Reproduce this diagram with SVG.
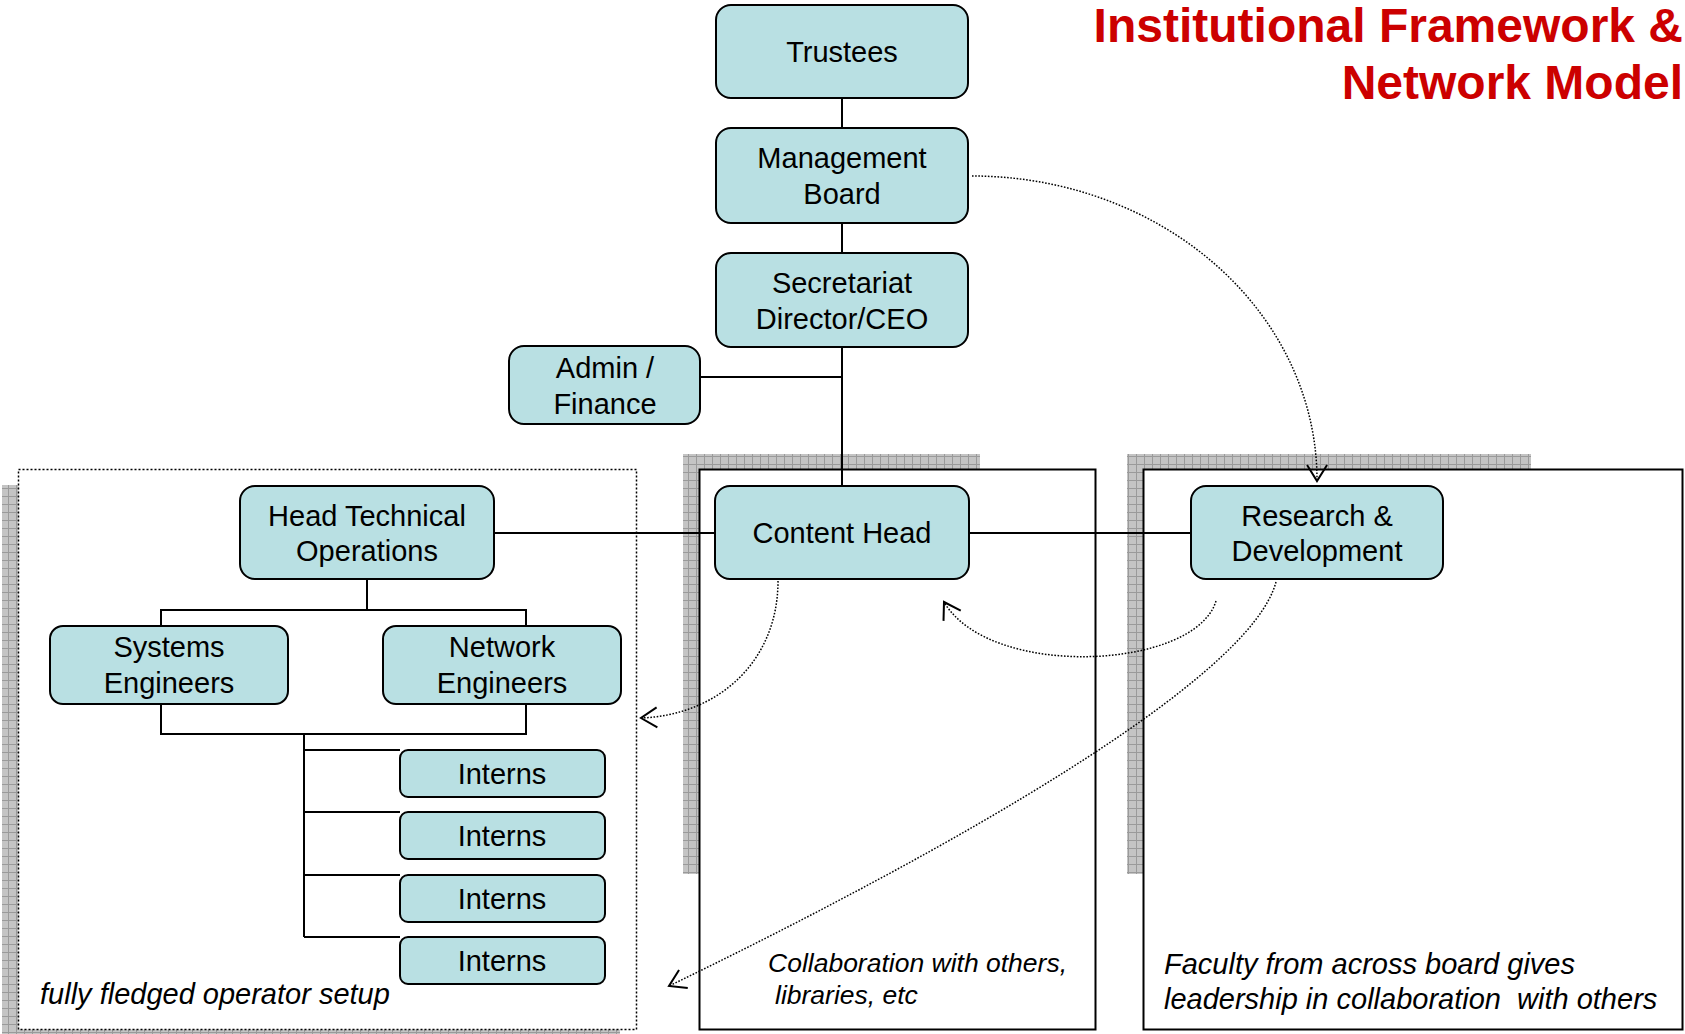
<svg xmlns="http://www.w3.org/2000/svg" width="1685" height="1034" viewBox="0 0 1685 1034">
<defs>
<pattern id="hatch" width="8" height="8" patternUnits="userSpaceOnUse">
<rect width="8" height="8" fill="#c4c4c4"/>
<path d="M0 0.5 H8 M0.5 0 V8" stroke="#9a9a9a" stroke-width="1" fill="none"/>
</pattern>
<marker id="arr" markerUnits="userSpaceOnUse" markerWidth="22" markerHeight="24" refX="17" refY="12" orient="auto">
<path d="M1 2 L17 12 L1 22" fill="none" stroke="#000" stroke-width="2"/>
</marker>
<style>
.node{fill:#b9e0e3;stroke:#000;stroke-width:2}
.t{font-family:"Liberation Sans",Arial,sans-serif;font-size:29px;fill:#000;text-anchor:middle}
.it{font-family:"Liberation Sans",Arial,sans-serif;font-style:italic;fill:#000}
.con{fill:none;stroke:#000;stroke-width:2}
.dot{fill:none;stroke:#000;stroke-width:1.5;stroke-dasharray:1.6 1.6}
.frame{fill:#fff;stroke:#000;stroke-width:2}
</style>
</defs>
<rect width="1685" height="1034" fill="#fff"/>

<g id="title">
<text x="1683" y="42" font-family="Liberation Sans,Arial,sans-serif" font-weight="bold" font-size="48" fill="#cc0000" text-anchor="end">Institutional Framework &amp;</text>
<text x="1683" y="99" font-family="Liberation Sans,Arial,sans-serif" font-weight="bold" font-size="48" fill="#cc0000" text-anchor="end">Network Model</text>
</g>

<g id="frames">
<rect x="2" y="485" width="618" height="560" fill="url(#hatch)"/>
<rect x="18.5" y="469.5" width="618" height="560" fill="#fff" stroke="#000" stroke-width="1.5" stroke-dasharray="2 2"/>
<rect x="683" y="454" width="297" height="420" fill="url(#hatch)"/>
<rect x="699.5" y="469.5" width="396" height="560" class="frame"/>
<rect x="1127" y="454" width="404" height="420" fill="url(#hatch)"/>
<rect x="1143.5" y="469.5" width="539" height="560" class="frame"/>
</g>

<g id="connectors">
<path class="con" d="M842 98 V128 M842 223 V253 M842 347 V486 M700 377 H842"/>
<path class="con" d="M494 533 H715 M969 533 H1191"/>
<path class="con" d="M367 579 V610 M161 626 V610 H526 V626"/>
<path class="con" d="M161 704 V734 H526 V704 M304 734 V937"/>
<path class="con" d="M304 750 H400 M304 812 H400 M304 875 H400 M304 937 H400"/>
<path class="dot" d="M972 176 A 345 304 0 0 1 1317 481" marker-end="url(#arr)"/>
<path class="dot" d="M778 581 C 778 660, 720 715, 641 718" marker-end="url(#arr)"/>
<path class="dot" d="M1216 601 C 1195 670, 990 680, 944 602" marker-end="url(#arr)"/>
<path class="dot" d="M1276 582 C 1250 680, 950 850, 669 986" marker-end="url(#arr)"/>
</g>

<g id="trustees"><rect class="node" x="716" y="5" width="252" height="93" rx="15"/><text class="t" x="842" y="62">Trustees</text></g>
<g id="management-board"><rect class="node" x="716" y="128" width="252" height="95" rx="15"/><text class="t" x="842" y="168">Management</text><text class="t" x="842" y="204">Board</text></g>
<g id="secretariat"><rect class="node" x="716" y="253" width="252" height="94" rx="15"/><text class="t" x="842" y="293">Secretariat</text><text class="t" x="842" y="329">Director/CEO</text></g>
<g id="admin-finance"><rect class="node" x="509" y="346" width="191" height="78" rx="15"/><text class="t" x="605" y="378">Admin /</text><text class="t" x="605" y="414">Finance</text></g>
<g id="head-technical"><rect class="node" x="240" y="486" width="254" height="93" rx="15"/><text class="t" x="367" y="526">Head Technical</text><text class="t" x="367" y="561">Operations</text></g>
<g id="content-head"><rect class="node" x="715" y="486" width="254" height="93" rx="15"/><text class="t" x="842" y="543">Content Head</text></g>
<g id="research"><rect class="node" x="1191" y="486" width="252" height="93" rx="15"/><text class="t" x="1317" y="526">Research &amp;</text><text class="t" x="1317" y="561">Development</text></g>
<g id="systems-engineers"><rect class="node" x="50" y="626" width="238" height="78" rx="13"/><text class="t" x="169" y="657">Systems</text><text class="t" x="169" y="693">Engineers</text></g>
<g id="network-engineers"><rect class="node" x="383" y="626" width="238" height="78" rx="13"/><text class="t" x="502" y="657">Network</text><text class="t" x="502" y="693">Engineers</text></g>
<g id="interns-1"><rect class="node" x="400" y="750" width="205" height="47" rx="8"/><text class="t" x="502" y="784">Interns</text></g>
<g id="interns-2"><rect class="node" x="400" y="812" width="205" height="47" rx="8"/><text class="t" x="502" y="846">Interns</text></g>
<g id="interns-3"><rect class="node" x="400" y="875" width="205" height="47" rx="8"/><text class="t" x="502" y="909">Interns</text></g>
<g id="interns-4"><rect class="node" x="400" y="937" width="205" height="47" rx="8"/><text class="t" x="502" y="971">Interns</text></g>

<g id="notes">
<text class="it" x="40" y="1004" font-size="29">fully fledged operator setup</text>
<text class="it" x="768" y="972" font-size="26.5">Collaboration with others,</text>
<text class="it" x="775" y="1004" font-size="26.5">libraries, etc</text>
<text class="it" x="1164" y="974" font-size="29">Faculty from across board gives</text>
<text class="it" x="1164" y="1009" font-size="29" xml:space="preserve">leadership in collaboration  with others</text>
</g>
</svg>
